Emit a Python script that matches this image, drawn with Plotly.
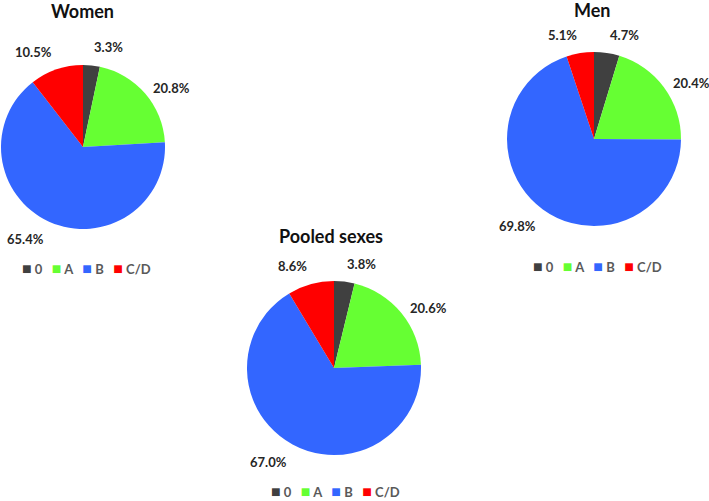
import math
import plotly.graph_objects as go

W, H = 709, 501

categories = ["0", "A", "B", "C/D"]
colors = ["#404040", "#66FF33", "#3366FF", "#FF0000"]

women_values = [3.3, 20.8, 65.4, 10.5]
men_values = [4.7, 20.4, 69.8, 5.1]
pooled_values = [3.8, 20.6, 67.0, 8.6]

titles = ["Women", "Men", "Pooled sexes"]

# pie placement (pixel centre x, centre y, radius), title pos, legend pos
pies = [
    (women_values, (83, 147, 82), (82, 11), (86, 267)),
    (men_values, (594, 139, 87), (592, 10), (597, 265)),
    (pooled_values, (334, 368, 87), (331, 236), (335, 490)),
]

FONT = "Lato, 'Open Sans', sans-serif"

fig = go.Figure()
annotations = []

for (vals, (cx, cy, r), (tx, ty), (lx, ly)), title in zip(pies, titles):
    fig.add_trace(go.Pie(
        labels=categories,
        values=vals,
        sort=False,
        direction="clockwise",
        rotation=0,
        marker=dict(colors=colors, line=dict(width=0)),
        textinfo="none",
        hoverinfo="label+percent",
        showlegend=False,
        domain=dict(x=[(cx - r) / W, (cx + r) / W],
                    y=[1 - (cy + r) / H, 1 - (cy - r) / H]),
    ))
    total = sum(vals)
    cum = 0.0
    for v in vals:
        frac = (cum + v / 2) / total
        cum += v
        phi = 2 * math.pi * frac
        s, c = math.sin(phi), math.cos(phi)
        d = r + 8
        px, py = cx + d * s, cy - d * c
        xa = "left" if s > 0.1 else ("right" if s < -0.12 else "center")
        ya = "bottom" if c > 0.75 else ("top" if c < -0.75 else "middle")
        annotations.append(dict(
            x=px / W, y=1 - py / H, xref="paper", yref="paper",
            text=f"<b>{v:.1f}%</b>", showarrow=False,
            xanchor=xa, yanchor=ya,
            font=dict(family=FONT, size=13, color="#262626"),
        ))
    annotations.append(dict(
        x=tx / W, y=1 - ty / H, xref="paper", yref="paper",
        text=f"<b>{title}</b>", showarrow=False,
        xanchor="center", yanchor="middle",
        font=dict(family=FONT, size=18, color="#111111"),
    ))
    legend_text = "&nbsp;&nbsp;&nbsp;".join(
        f"<span style='color:{col};font-size:16px'>■</span>&nbsp;{lab}"
        for lab, col in zip(categories, colors)
    )
    annotations.append(dict(
        x=lx / W, y=1 - ly / H, xref="paper", yref="paper",
        text=f"<b>{legend_text}</b>", showarrow=False,
        xanchor="center", yanchor="middle",
        font=dict(family=FONT, size=13, color="#595959"),
    ))

fig.update_layout(
    width=W, height=H,
    margin=dict(l=0, r=0, t=0, b=0),
    paper_bgcolor="white",
    plot_bgcolor="white",
    annotations=annotations,
)

fig.write_html("out.html", config={"displayModeBar": False},
               post_script="document.body.style.margin='0';")
